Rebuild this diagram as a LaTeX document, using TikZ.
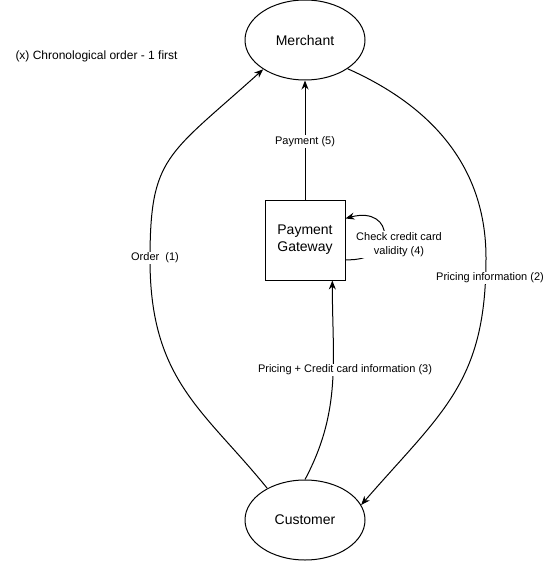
\documentclass[tikz,border=0pt]{standalone}
\usepackage{fontspec}
\setmainfont{Liberation Sans}
\usetikzlibrary{arrows.meta,shapes.geometric}
\begin{document}
\begin{tikzpicture}[x=1pt,y=-1pt,line width=1pt,
  ent/.style={draw,ellipse,minimum width=120pt,minimum height=80pt,inner sep=0pt,font=\fontsize{14}{17}\selectfont},
  gate/.style={draw,rectangle,minimum width=80pt,minimum height=80pt,inner sep=0pt,align=center,font=\fontsize{14}{17}\selectfont},
  lbl/.style={fill=white,inner sep=1pt,align=center,font=\fontsize{11}{14}\selectfont},
  note/.style={font=\fontsize{12}{14}\selectfont,anchor=west,inner sep=0pt},
  arr/.style={-{Stealth[length=9pt,width=7pt]}}]
\useasboundingbox (0,0) rectangle (545,561);
\node[ent] (m) at (305,40) {Merchant};
\node[ent] (c) at (305,520) {Customer};
\node[gate] (g) at (305,240) {Payment\\Gateway};
\node[note] (n) at (15,56) {(x) Chronological order - 1 first};
\coordinate (o1) at (150,260);
\coordinate (o2) at (486,258);
% Payment (5)
\draw[arr] (g.north) -- (m.south);
\node[lbl] (l5) at (305,141.5) {Payment (5)};
% Order (1)
\draw[arr] (c.140) to[out=129,in=-90,in looseness=1.2] (o1) to[out=90,in=222,out looseness=1.2,in looseness=1.5] (m.215);
\node[lbl] (l1) at (155,258) {Order\ \ (1)};
% Pricing information (2)
\draw[arr] (m.-34) to[out=-24,in=90] (o2) to[out=-90,in=49,looseness=1.15] (c.15);
\node[lbl] (l2) at (490,278) {Pricing information (2)};
% Pricing + Credit card (3)
\draw[arr] (c.north) to[out=62,in=-90] (g.-56);
\node[lbl] (l3) at (345,370) {Pricing + Credit card information (3)};
% Check (4)
\draw[arr] (g.-26.57) .. controls (398,262) and (395,205) .. (g.28.8);
\node[lbl] (l4) at (399,244.5) {Check credit card\\validity (4)};
\end{tikzpicture}
\end{document}
